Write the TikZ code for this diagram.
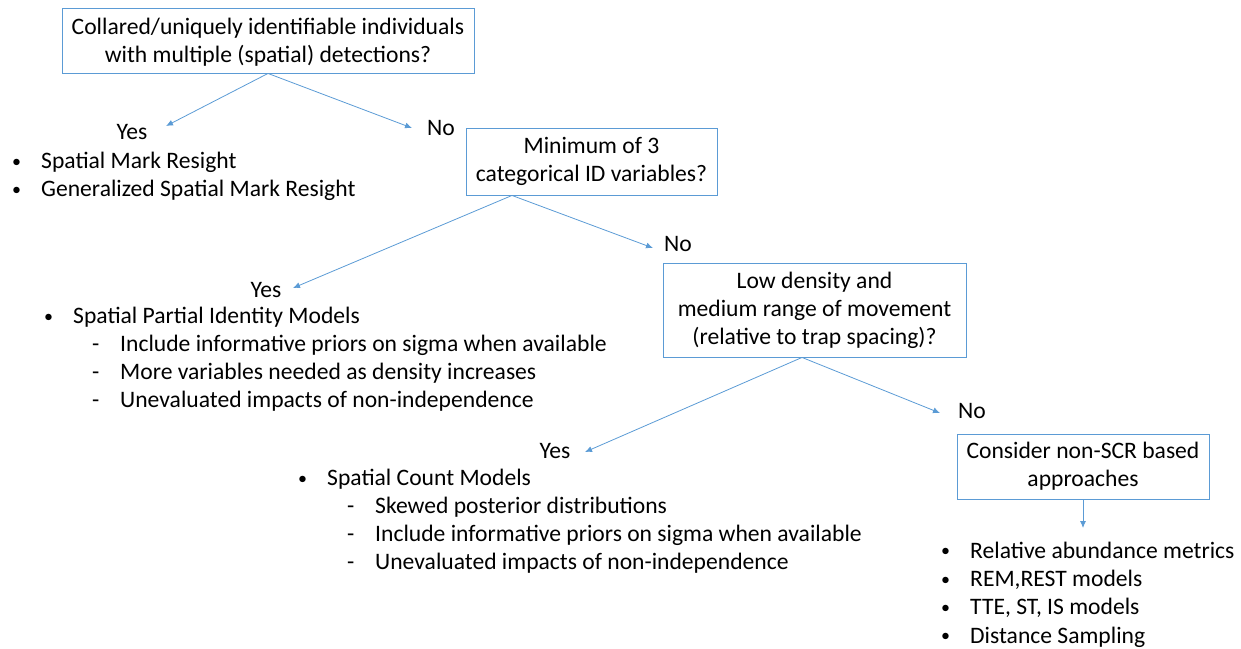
\documentclass[tikz,border=0pt]{standalone}
\usepackage{fontspec}
\setmainfont{Carlito}
\usetikzlibrary{arrows.meta,positioning}
\definecolor{flowblue}{HTML}{5B9BD5}

\tikzset{
  qbox/.style={draw=flowblue, line width=0.9pt, align=center, inner sep=0pt},
  flow/.style={draw=flowblue, line width=0.8pt, -{Latex[length=7pt,width=6pt]}},
  answer/.style={inner sep=0pt, text height=.7em, text depth=.2em, yshift=-6pt},
  entry/.style={anchor=west, inner sep=0pt, text height=.7em, text depth=.2em, yshift=-6pt},
}
\newcommand\bul{\makebox[29pt][l]{\raisebox{1.5pt}{\fontsize{18}{18}\selectfont\textbullet}}}
\newcommand\dsh{\makebox[28pt][l]{-}}

\begin{document}
\begin{tikzpicture}[x=1pt, y=-1pt, font=\fontsize{23.6}{28}\selectfont]
\useasboundingbox (0,0) rectangle (1241,648);

% questions
\node[qbox, minimum width=412pt, minimum height=65pt] (q1) at (268,40.5)
  {\rule{0pt}{20pt}Collared/uniquely identifiable individuals\\with multiple (spatial) detections?};
\node[qbox, minimum width=251pt, minimum height=67pt] (q2) at (591.5,161.5)
  {Minimum of 3\\categorical ID variables?};
\node[qbox, minimum width=303pt, minimum height=94pt] (q3) at (814.5,310)
  {Low density and\\medium range of movement\\(relative to trap spacing)?};
\node[qbox, minimum width=252pt, minimum height=65pt] (q4) at (1083,466.5)
  {Consider non-SCR based\\approaches};

% answers
\node[answer] (yes1) at (132,131) {Yes};
\node[answer] (no1) at (441,127) {No};
\node[answer] (yes2) at (266,289) {Yes};
\node[answer] (no2) at (678,243) {No};
\node[answer] (yes3) at (555,450) {Yes};
\node[answer] (no3) at (972,410) {No};

% arrow tips
\coordinate (ty1) at (166,126);
\coordinate (tn1) at (412,128);
\coordinate (ty2) at (293,288);
\coordinate (tn2) at (653,248);
\coordinate (ty3) at (585,452);
\coordinate (tn3) at (940,413);
\coordinate (t4) at (1083,528);

\draw[flow] (q1.south) -- (ty1);
\draw[flow] (q1.south) -- (tn1);
\draw[flow] ([xshift=-79.5pt]q2.south) -- (ty2);
\draw[flow] ([xshift=-79.5pt]q2.south) -- (tn2);
\draw[flow] ([xshift=-12.5pt]q3.south) -- (ty3);
\draw[flow] ([xshift=-12.5pt]q3.south) -- (tn3);
\draw[flow] (q4.south) -- (t4);

% model lists
\foreach \txt [count=\i] in {Spatial Mark Resight, Generalized Spatial Mark Resight}
  \node[entry] (a\i) at (12,132+28*\i) {\bul\txt};

\node[entry] (b0) at (44,315) {\bul Spatial Partial Identity Models};
\foreach \txt [count=\i] in {Include informative priors on sigma when available,
    More variables needed as density increases,
    Unevaluated impacts of non-independence}
  \node[entry] (b\i) at (92,315+28*\i) {\dsh\txt};

\node[entry] (c0) at (298,477) {\bul Spatial Count Models};
\foreach \txt [count=\i] in {Skewed posterior distributions,
    Include informative priors on sigma when available,
    Unevaluated impacts of non-independence}
  \node[entry] (c\i) at (347,477+28*\i) {\dsh\txt};

\foreach \txt [count=\i] in {Relative abundance metrics, {REM,REST models},
    {TTE, ST, IS models}, Distance Sampling}
  \node[entry] (d\i) at (941,521.5+28.3*\i) {\bul\txt};
\end{tikzpicture}
\end{document}
